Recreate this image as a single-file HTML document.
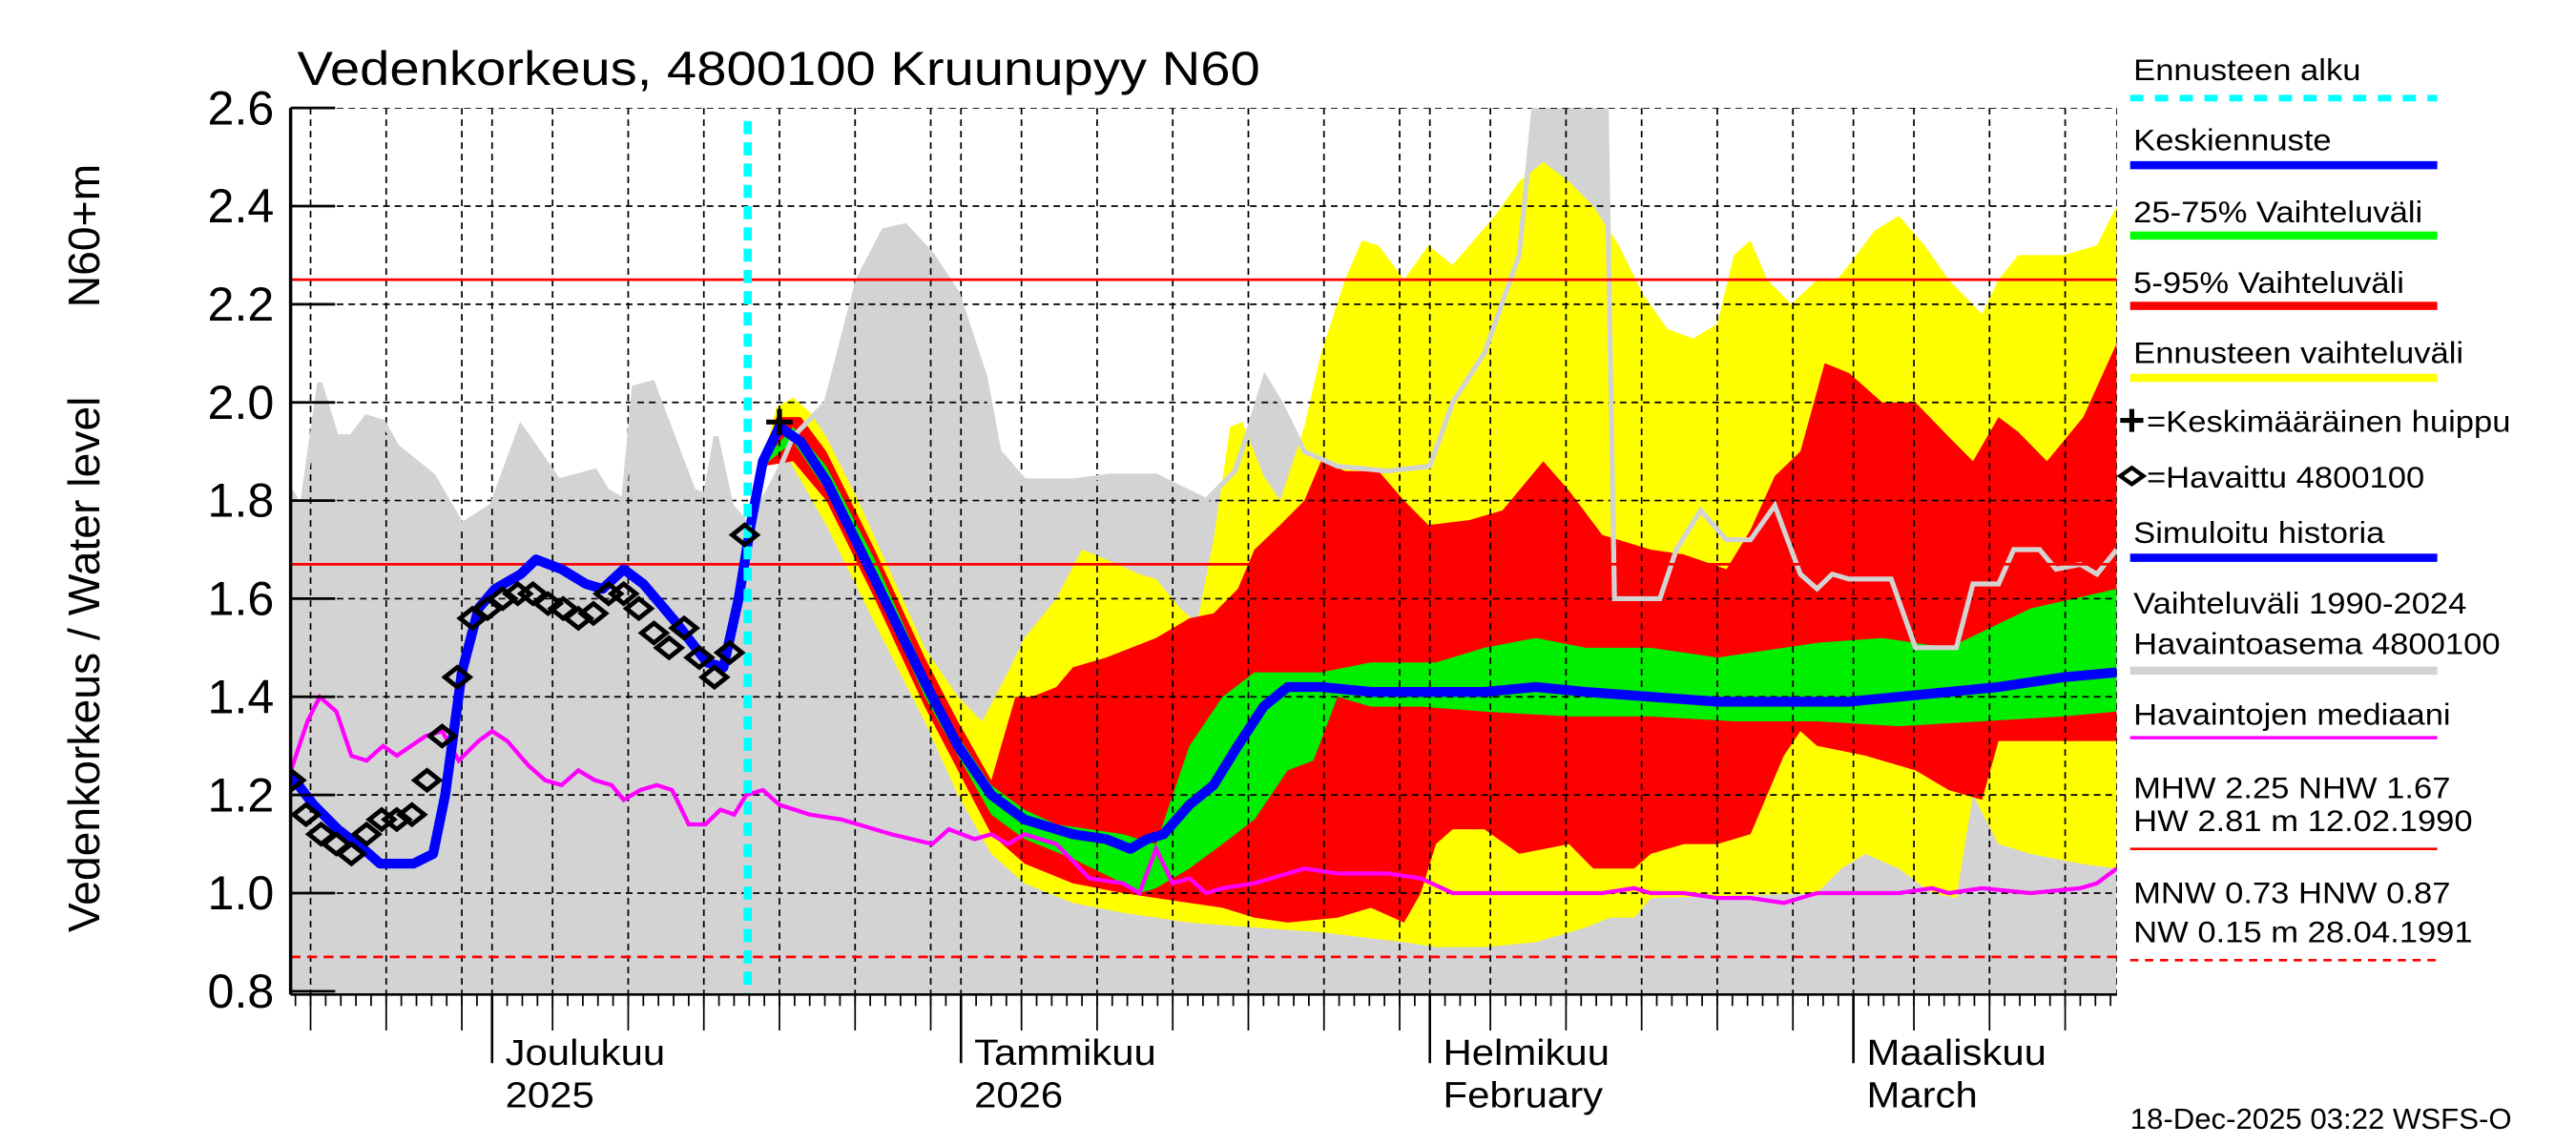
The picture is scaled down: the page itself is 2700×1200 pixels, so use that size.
<!DOCTYPE html>
<html><head><meta charset="utf-8"><style>
html,body{margin:0;padding:0;background:#fff;}
svg{display:block;font-family:"Liberation Sans",sans-serif;}
</style></head><body>
<svg id="chart" width="2700" height="1200" viewBox="0 0 1560 700" preserveAspectRatio="none" xmlns="http://www.w3.org/2000/svg">
<defs><clipPath id="pc"><rect x="176" y="66" width="1106" height="542"/></clipPath></defs>
<rect width="1560" height="700" fill="#fff"/>
<g id="plot" clip-path="url(#pc)"></g>
<g id="axes"></g>
<text data-stretch="1.12" x="180" y="52" font-size="29">Vedenkorkeus, 4800100 Kruunupyy N60</text>
<text transform="translate(60,570) rotate(-90)" font-size="27">Vedenkorkeus / Water level</text>
<text transform="translate(60,188) rotate(-90)" font-size="27">N60+m</text>
<g id="legend" font-size="18.5"></g>
<text x="1290" y="690" font-size="18">18-Dec-2025 03:22 WSFS-O</text>
</svg>
<script>
const NS="http://www.w3.org/2000/svg";
// Data: days relative to 1 Dec 2025, values in N60+m
const grayUpDays=[-13.3,-12.6,-11.4,-10.3,-9.3,-8.3,-7.2,-6.3,-3.9,-2.0,0,1.9,4.4,6.8,7.6,8.7,9.4,10.6,13.3,14.1,14.8,15.8,16.9,17.9,18.8,19.9,22.1,24.2,25.9,27.3,29.1,30.8,32.6,33.5,35.2,38.4,40.9,43.9,47.2,49.1,50.1,51.1,52.1,53.7,55.9,59.2,62.0,63.5,65.6,67.9,69.2,73.6,74.2,75.5,77.2,78.3,79.9,81.6,83.2,84.8,86.5,87.6,88.6,89.7,92.5,94.1,96.8,97.9,99.6,100.6,102.3,103.4,105.0,106.1,107.4];
const grayUpVals=[1.82,1.78,2.04,1.93,1.93,1.97,1.96,1.91,1.85,1.75,1.79,1.95,1.84,1.86,1.82,1.80,2.03,2.04,1.82,1.81,1.93,1.79,1.75,1.80,1.85,1.93,2.00,2.25,2.35,2.36,2.30,2.22,2.05,1.90,1.84,1.84,1.85,1.85,1.80,1.86,1.95,2.05,2.00,1.90,1.87,1.86,1.87,2.00,2.10,2.30,2.70,2.70,1.60,1.60,1.60,1.70,1.78,1.72,1.72,1.79,1.65,1.62,1.65,1.64,1.64,1.50,1.50,1.63,1.63,1.70,1.70,1.66,1.67,1.65,1.70];
const yelUpDays=[17.9,18.8,19.9,21.0,22.1,24.2,26.4,28.6,30.8,32.4,34.1,35.2,37.3,39.0,40.6,42.8,43.9,45.5,46.6,47.7,48.8,49.6,51.0,52.1,53.7,54.8,56.4,57.5,58.6,60.3,61.9,63.5,66.3,67.9,69.5,71.2,72.8,74.5,76.1,77.7,79.4,81.0,82.1,83.2,84.3,85.9,87.6,88.9,89.7,91.4,93.0,94.7,96.3,98.5,99.6,100.9,103.9,106.1,107.4];
const yelUpVals=[1.88,1.99,2.01,1.98,1.93,1.80,1.65,1.50,1.40,1.35,1.45,1.52,1.60,1.70,1.68,1.65,1.64,1.58,1.55,1.72,1.95,1.96,1.85,1.80,1.95,2.10,2.25,2.33,2.32,2.25,2.32,2.28,2.38,2.45,2.49,2.45,2.40,2.32,2.22,2.15,2.13,2.16,2.30,2.33,2.25,2.20,2.25,2.25,2.28,2.35,2.38,2.32,2.25,2.18,2.25,2.30,2.30,2.32,2.40];
const yelLoDays=[17.9,19.3,22.1,25.3,28.6,30.8,33.0,35.2,38.4,41.7,46.1,50.4,54.8,60.3,62.4,65.6,69.0,72.3,73.9,75.5,76.6,87.6,89.2,90.8,93.0,95.2,96.8,97.9,99.6,101.7,105.0,107.4];
const yelLoVals=[1.88,1.90,1.75,1.55,1.35,1.20,1.08,1.02,0.98,0.96,0.94,0.93,0.92,0.90,0.89,0.89,0.90,0.93,0.95,0.95,0.99,1.00,1.05,1.08,1.05,1.00,0.99,1.20,1.10,1.08,1.06,1.05];
const redUpDays=[17.9,18.8,20.4,22.1,25.3,28.6,30.8,33.0,34.6,35.7,37.3,38.4,40.6,43.9,46.1,47.7,49.3,50.4,52.1,53.7,54.8,56.4,58.6,60.3,61.9,64.6,66.8,69.5,71.2,73.4,76.6,78.8,81.6,83.2,84.8,86.5,88.1,89.7,91.9,94.1,96.3,97.9,99.6,100.9,102.8,105.2,107.4];
const redUpVals=[1.87,1.97,1.97,1.90,1.70,1.48,1.35,1.23,1.40,1.40,1.42,1.46,1.48,1.52,1.56,1.57,1.62,1.70,1.75,1.80,1.88,1.86,1.86,1.80,1.75,1.76,1.78,1.88,1.82,1.73,1.70,1.69,1.66,1.74,1.85,1.90,2.08,2.06,2.00,2.00,1.93,1.88,1.97,1.94,1.88,1.97,2.12];
const redLoDays=[17.9,19.9,22.1,25.3,28.6,30.8,33.0,35.2,38.4,41.7,43.9,48.3,50.4,52.6,55.9,58.1,60.3,61.4,62.4,63.5,65.6,67.9,71.2,72.8,75.5,76.6,78.8,81.0,83.2,84.3,85.4,86.5,87.6,90.8,94.1,96.3,98.5,99.6,102.8,107.4];
const redLoVals=[1.87,1.88,1.80,1.60,1.38,1.25,1.12,1.06,1.02,1.00,0.99,0.97,0.95,0.94,0.95,0.97,0.94,1.00,1.10,1.13,1.13,1.08,1.10,1.05,1.05,1.08,1.10,1.10,1.12,1.20,1.28,1.33,1.30,1.28,1.25,1.21,1.19,1.31,1.31,1.31];
const grnUpDays=[17.9,19.9,22.1,25.3,28.6,30.8,33.0,35.2,37.3,41.7,43.9,46.1,48.3,50.4,54.8,58.1,62.4,65.6,69.0,72.3,76.6,81.0,85.4,87.6,91.9,96.3,101.7,107.4];
const grnUpVals=[1.88,1.95,1.87,1.68,1.45,1.32,1.22,1.17,1.14,1.12,1.10,1.30,1.40,1.45,1.45,1.47,1.47,1.50,1.52,1.50,1.50,1.48,1.50,1.51,1.52,1.50,1.58,1.62];
const grnLoDays=[17.9,19.9,22.1,25.3,28.6,30.8,33.0,35.2,38.4,41.7,42.8,43.9,46.1,48.3,50.4,52.6,54.3,55.9,58.1,61.4,65.6,71.2,76.6,82.1,87.6,93.0,98.5,103.9,107.4];
const grnLoVals=[1.87,1.92,1.82,1.63,1.40,1.28,1.16,1.11,1.07,1.02,1.00,1.01,1.05,1.10,1.15,1.25,1.27,1.40,1.38,1.38,1.37,1.36,1.36,1.35,1.35,1.34,1.35,1.36,1.37];
const blueDays=[-13.3,-11.8,-10.2,-8.5,-7.4,-5.2,-3.9,-3.1,-2.0,-0.9,0.2,1.9,2.9,4.6,6.2,7.3,8.7,10.0,12.2,14.2,15.3,16.3,17.1,17.9,19.0,20.4,22.1,25.3,28.6,30.8,33.0,35.2,38.4,40.6,42.2,43.3,44.4,46.1,47.7,49.3,51.0,52.6,54.8,58.1,61.4,65.6,69.0,72.3,76.6,81.0,85.4,89.7,93.0,96.3,99.6,103.9,107.4];
const blueVals=[1.24,1.18,1.13,1.09,1.06,1.06,1.08,1.20,1.45,1.58,1.62,1.65,1.68,1.66,1.63,1.62,1.66,1.63,1.55,1.47,1.46,1.60,1.75,1.88,1.95,1.92,1.84,1.64,1.43,1.30,1.20,1.15,1.12,1.11,1.09,1.11,1.12,1.18,1.22,1.30,1.38,1.42,1.42,1.41,1.41,1.41,1.42,1.41,1.40,1.39,1.39,1.39,1.40,1.41,1.42,1.44,1.45];
const medDays=[-13.3,-12.2,-11.4,-10.3,-9.3,-8.3,-7.2,-6.3,-4.4,-3.3,-2.2,-0.9,0,1.0,2.4,3.5,4.6,5.7,6.8,7.9,8.7,9.8,10.9,11.9,13.0,14.1,15.1,16.0,16.8,17.9,19.0,21.0,23.1,24.2,26.4,29.1,30.2,31.9,33.0,34.1,35.2,37.3,39.5,41.7,42.8,43.9,45.0,46.1,47.2,48.3,50.4,51.5,53.7,55.9,59.2,61.4,63.5,67.9,71.2,73.4,75.5,76.6,78.8,81.0,83.2,85.4,87.6,93.0,95.2,96.3,98.5,101.7,105.0,106.1,107.4];
const medVals=[1.25,1.35,1.40,1.37,1.28,1.27,1.30,1.28,1.32,1.33,1.27,1.31,1.33,1.31,1.26,1.23,1.22,1.25,1.23,1.22,1.19,1.21,1.22,1.21,1.14,1.14,1.17,1.16,1.20,1.21,1.18,1.16,1.15,1.14,1.12,1.10,1.13,1.11,1.12,1.10,1.12,1.10,1.03,1.02,1.00,1.09,1.02,1.03,1.00,1.01,1.02,1.03,1.05,1.04,1.04,1.03,1.00,1.00,1.00,1.00,1.01,1.00,1.00,0.99,0.99,0.98,1.00,1.00,1.01,1.00,1.01,1.00,1.01,1.02,1.05];
const obsStartDay=-13.3;
const obsVals=[1.23,1.16,1.12,1.10,1.08,1.12,1.15,1.15,1.16,1.23,1.32,1.44,1.56,1.58,1.60,1.61,1.61,1.59,1.58,1.56,1.57,1.61,1.61,1.58,1.53,1.50,1.54,1.48,1.44,1.49,1.73];
const peakDay=[19.0], peakVal=[1.96];
const forecastStartDay=16.9;
const refLevels=[2.25,1.67]; const nwLevel=[0.87];
const yTicks=[0.8,1.0,1.2,1.4,1.6,1.8,2.0,2.2,2.4,2.6];
const monthStarts=[0,31,62,90];
const monthLabels=[["Joulukuu","2025"],["Tammikuu","2026"],["Helmikuu","February"],["Maaliskuu","March"]];

const X0=176,X1=1282,Y0=66,Y1=608;
const x=d=>298+d*9.16;
const y=v=>66+(2.6-v)*300;
const plot=document.getElementById('plot'),axes=document.getElementById('axes'),leg=document.getElementById('legend');
function mk(tag,attrs,parent){const e=document.createElementNS(NS,tag);for(const k in attrs)e.setAttribute(k,attrs[k]);parent.appendChild(e);return e;}
function pts(ds,vs){return ds.map((d,i)=>x(d).toFixed(1)+','+y(vs[i]).toFixed(1));}
function band(ud,uv,ld,lv,fill,name){
  const p=pts(ud,uv).concat(pts(ld,lv).reverse());
  const e=mk('polygon',{points:p.join(' '),fill:fill},plot);
  
  
}
{const p=pts(grayUpDays,grayUpVals);p.unshift(x(grayUpDays[0])+','+(Y1+5));p.push(x(grayUpDays[grayUpDays.length-1])+','+(Y1+5));
 const e=mk('polygon',{points:p.join(' '),fill:'#d3d3d3'},plot);
 
 }
band(yelUpDays,yelUpVals,yelLoDays,yelLoVals,'#ffff00','forecast-range-band');
band(redUpDays,redUpVals,redLoDays,redLoVals,'#ff0000','band-5-95');
band(grnUpDays,grnUpVals,grnLoDays,grnLoVals,'#00ee00','band-25-75');
yTicks.forEach(v=>{if(v>0.8&&v<2.6){const g=mk('line',{x1:X0,x2:X1,y1:y(v),y2:y(v),stroke:'#000','stroke-width':1,'stroke-dasharray':'4,3'},plot);
 
 }});
mk('line',{x1:X0,x2:X1,y1:Y0,y2:Y0,stroke:'#000','stroke-width':1,'stroke-dasharray':'4,3'},plot);
const gridDays=[];
[-31,0,31,62,90].forEach((ms,mi)=>{const nxt=[0,31,62,90,121][mi];for(let k=0;;k++){const d=ms+4+5*k;if(d>=nxt-0.5)break;gridDays.push(d);}});
gridDays.forEach(d=>{if(x(d)>X0&&x(d)<X1){const g=mk('line',{x1:x(d),x2:x(d),y1:Y0,y2:Y1,stroke:'#000','stroke-width':1,'stroke-dasharray':'4,3'},plot);
 
 }});
monthStarts.forEach(d=>{mk('line',{x1:x(d),x2:x(d),y1:Y0,y2:Y1,stroke:'#000','stroke-width':1,'stroke-dasharray':'4,3'},plot);});
mk('line',{x1:X1,x2:X1,y1:Y0,y2:Y1,stroke:'#000','stroke-width':1,'stroke-dasharray':'4,3'},plot);
{const e=mk('polyline',{points:pts(grayUpDays,grayUpVals).join(' '),fill:'none',stroke:'#d3d3d3','stroke-width':3},plot);
 
 }
refLevels.forEach(v=>{const e=mk('line',{x1:X0,x2:X1,y1:y(v),y2:y(v),stroke:'#ff0000','stroke-width':1.6},plot);
 
 });
nwLevel.forEach(v=>{const e=mk('line',{x1:X0,x2:X1,y1:y(v),y2:y(v),stroke:'#ff0000','stroke-width':1.6,'stroke-dasharray':'6,4'},plot);
 
 });
{const e=mk('polyline',{points:pts(medDays,medVals).join(' '),fill:'none',stroke:'#ff00ff','stroke-width':2.5},plot);
 
 }
{const e=mk('polyline',{points:pts(blueDays,blueVals).join(' '),fill:'none',stroke:'#0000ff','stroke-width':6,'stroke-linejoin':'round'},plot);
 
 }
{const e=mk('line',{x1:x(forecastStartDay),x2:x(forecastStartDay),y1:Y0+8,y2:Y1,stroke:'#00ffff','stroke-width':5,'stroke-dasharray':'8,5'},plot);
 
 }
obsVals.forEach((v,i)=>{const cx=x(obsStartDay+i),cy=y(v),r=7.5;
 const e=mk('polygon',{points:`${cx-r},${cy} ${cx},${cy-r*0.8} ${cx+r},${cy} ${cx},${cy+r*0.8}`,fill:'none',stroke:'#000','stroke-width':2.8},plot);
 
 });
peakDay.forEach((d,i)=>{const cx=x(d),cy=y(peakVal[i]);
 const e=mk('path',{d:`M${cx-8},${cy}H${cx+8}M${cx},${cy-8}V${cy+8}`,stroke:'#000','stroke-width':3},plot);
 
 });
mk('line',{x1:X0,x2:X0,y1:Y0,y2:Y1,stroke:'#000','stroke-width':2},axes);
mk('line',{x1:X0,x2:X1,y1:Y1,y2:Y1,stroke:'#000','stroke-width':1.5},axes);
yTicks.forEach(v=>{mk('line',{x1:X0,x2:X0+27,y1:y(v),y2:y(v),stroke:'#000','stroke-width':1.6},axes);
 const t=mk('text',{x:166,y:y(v)+10,'text-anchor':'end','font-size':29},axes);t.textContent=v.toFixed(1);
 
 });
for(let d=-13;d<=107;d++){if(x(d)>=X0&&x(d)<=X1)mk('line',{x1:x(d),x2:x(d),y1:Y1,y2:Y1+7,stroke:'#000','stroke-width':1},axes);}
gridDays.forEach(d=>{if(x(d)>X0&&x(d)<X1)mk('line',{x1:x(d),x2:x(d),y1:Y1,y2:Y1+22,stroke:'#000','stroke-width':1},axes);});
monthStarts.forEach((d,i)=>{mk('line',{x1:x(d),x2:x(d),y1:Y1,y2:Y1+42,stroke:'#000','stroke-width':1.5},axes);
 const t1=mk('text',{x:x(d)+8,y:651,'font-size':22,'data-stretch':'1.1'},axes);t1.textContent=monthLabels[i][0];
 
 
 const t2=mk('text',{x:x(d)+8,y:677,'font-size':22,'data-stretch':'1.1'},axes);t2.textContent=monthLabels[i][1];
 
 });
const LX=1292,LW=184;
function ltext(s,yy,name,xx){const t=mk('text',{x:xx||LX,y:yy,'data-stretch':'1.08'},leg);t.textContent=s;
 
 }
function lline(yy,col,w,dash){const a={x1:LX-2,x2:LX+LW,y1:yy,y2:yy,stroke:col,'stroke-width':w};if(dash)a['stroke-dasharray']=dash;mk('line',a,leg);}
ltext('Ennusteen alku',49,'legend-forecast-start');lline(60,'#00ffff',4,'8,7');
ltext('Keskiennuste',92,'legend-mean-forecast');lline(101,'#0000ff',5);
ltext('25-75% Vaihteluväli',136,'legend-band-25-75');lline(144,'#00ff00',5);
ltext('5-95% Vaihteluväli',179,'legend-band-5-95');lline(187,'#ff0000',5);
ltext('Ennusteen vaihteluväli',222,'legend-forecast-range');lline(231,'#ffff00',5);
mk('path',{d:'M1284,257H1298M1291,250V264',stroke:'#000','stroke-width':3},leg);
ltext('=Keskimääräinen huippu',264,'legend-mean-peak',1300);
mk('polygon',{points:'1284,291 1291,286 1298,291 1291,296',fill:'none',stroke:'#000','stroke-width':2.5},leg);
ltext('=Havaittu 4800100',298,'legend-observed',1300);
ltext('Simuloitu historia',332,'legend-simulated');lline(341,'#0000ff',5);
ltext('Vaihteluväli 1990-2024',375,'legend-historical-range');
ltext('Havaintoasema 4800100',400,'legend-station');lline(410,'#d3d3d3',5);
ltext('Havaintojen mediaani',443,'legend-median');lline(451,'#ff00ff',2);
ltext('MHW   2.25 NHW   1.67',488,'legend-mhw');
ltext('HW   2.81 m 12.02.1990',508,'legend-hw');lline(519,'#ff0000',1.5);
ltext('MNW   0.73 HNW   0.87',552,'legend-mnw');
ltext('NW   0.15 m 28.04.1991',576,'legend-nw');lline(587,'#ff0000',1.5,'5,4');
document.querySelectorAll('text[data-stretch]').forEach(t=>{
  const f=parseFloat(t.getAttribute('data-stretch'));
  const L=t.getComputedTextLength();
  if(L>0){t.setAttribute('textLength',(L*f).toFixed(1));t.setAttribute('lengthAdjust','spacingAndGlyphs');}
});
</script>
</body></html>
